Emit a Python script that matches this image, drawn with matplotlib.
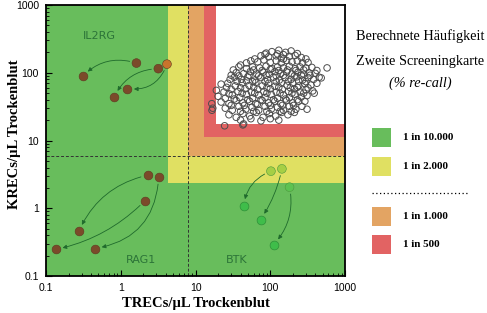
import matplotlib
matplotlib.use("Agg")
import matplotlib.pyplot as plt
from matplotlib.patches import Rectangle
from matplotlib.lines import Line2D

# ---------------- data ----------------
x_ticks = [0.1, 1, 10, 100, 1000]
x_ticklabels = ["0.1", "1", "10", "100", "1000"]
y_ticks = [0.1, 1, 10, 100, 1000]
y_ticklabels = ["0.1", "1", "10", "100", "1000"]

# cut-off zones (lower-left corner of each nested zone, TREC, KREC)
zone_colors = ["#e0e062", "#e3a463", "#e26363", "#ffffff"]
zone_x0 = [4.3, 8.0, 12.8, 19.0]
zone_y0 = [2.35, 6.0, 11.3, 17.5]
cut_trec = 8.0
cut_krec = 6.0

# IL2RG patients (first card -> second card)
il2rg_first_trec = [1.62, 3.18, 4.15]
il2rg_first_krec = [139, 115, 134]
il2rg_second_trec = [0.308, 0.814, 1.21]
il2rg_second_krec = [89, 44, 58.5]

# RAG1 patients
rag1_first_trec = [2.29, 2.11, 3.21]
rag1_first_krec = [3.08, 1.30, 2.88]
rag1_second_trec = [0.275, 0.135, 0.45]
rag1_second_krec = [0.46, 0.247, 0.255]

# BTK patients
btk_first_trec = [102, 143, 181]
btk_first_krec = [3.53, 3.82, 2.05]
btk_second_trec = [44, 74, 111]
btk_second_krec = [1.08, 0.68, 0.29]

# healthy newborn cloud
cloud_trec = [
    105, 130, 160, 190, 230, 125, 85,
    62, 75, 95, 120, 150, 180, 215, 260, 300, 88, 140,
    48, 55, 68, 82, 100, 120, 140, 165, 195, 230, 270, 320, 150, 40,
    38, 48, 58, 72, 88, 105, 125, 150, 180, 215, 250, 300, 360, 575, 420, 32,
    35, 44, 54, 66, 80, 97, 115, 138, 165, 195, 235, 280, 330, 400, 30,
    29, 33, 41, 50, 62, 75, 92, 110, 132, 158, 190, 225, 270, 320, 380, 450, 480,
    22, 27, 34, 42, 52, 64, 78, 95, 115, 140, 168, 200, 240, 290, 350, 420,
    19, 24, 30, 37, 46, 56, 68, 82, 100, 120, 145, 175, 210, 250, 300, 370, 387,
    20, 25, 31, 39, 48, 58, 70, 85, 103, 125, 150, 180, 215, 260, 310,
    22, 28, 35, 43, 53, 64, 78, 95, 115, 138, 165, 200, 240, 290,
    25, 31, 38, 47, 57, 70, 85, 103, 125, 150, 180, 220, 265, 310,
    28, 35, 43, 53, 65, 80, 97, 118, 142, 172, 210,
    40, 55, 75, 100, 130,
    60, 78, 100, 130, 170, 220, 280,
    38, 52, 70, 88, 120, 150, 210, 260, 340,
    36, 48, 58, 85, 120, 175, 240, 300,
    26, 40, 60, 90, 130, 185, 230, 320,
    28, 42, 62, 90, 135, 195, 280,
    33, 50, 75, 110, 160, 230,
    30, 45, 67, 100, 145, 205,
    40, 60, 90, 135, 190,
    16.5, 17, 16.6, 24.5, 43, 44,
]
cloud_krec = [
    205, 215, 200, 210, 192, 190, 188,
    160, 178, 172, 178, 185, 175, 180, 168, 160, 195, 165,
    140, 150, 145, 155, 142, 150, 140, 152, 145, 150, 140, 142, 160, 130,
    122, 115, 122, 118, 125, 115, 122, 118, 125, 115, 122, 118, 120, 118, 108, 110,
    100, 97, 104, 96, 102, 95, 104, 97, 103, 96, 102, 95, 100, 98, 92,
    80, 86, 80, 87, 78, 85, 79, 86, 78, 85, 80, 87, 78, 85, 80, 86, 84,
    68, 70, 64, 71, 65, 72, 64, 70, 63, 71, 65, 70, 64, 69, 66, 70,
    55, 52, 57, 53, 58, 52, 57, 53, 58, 52, 57, 53, 58, 52, 56, 54, 50,
    45, 42, 47, 43, 48, 42, 47, 43, 48, 42, 47, 43, 48, 44, 46,
    37, 35, 39, 36, 38, 35, 39, 36, 38, 35, 39, 36, 38, 38,
    30, 28, 32, 29, 31, 28, 32, 29, 31, 28, 32, 29, 32, 29,
    24, 22, 25, 23, 26, 22, 25, 23, 26, 24, 26,
    20, 21, 19.5, 21, 20,
    110, 108, 112, 108, 110, 108, 110,
    90, 92, 90, 92, 90, 92, 90, 92, 92,
    75, 76, 74, 75, 74, 75, 75, 74,
    61, 60, 61, 60, 61, 60, 61, 60,
    49, 50, 50, 50, 50, 50, 50,
    41, 40, 40, 40, 41, 40,
    33, 33, 34, 33, 33, 33,
    27, 27, 27, 27, 27,
    35, 30, 28, 16.5, 17, 17.6,
]

legend_labels = ["1 in 10.000", "1 in 2.000", "1 in 1.000", "1 in 500"]
legend_colors = ["#68bd5c", "#e0e062", "#e3a463", "#e26363"]

# ---------------- figure ----------------
plt.rcParams["font.family"] = ["Liberation Serif", "DejaVu Serif"]
fig = plt.figure(figsize=(4.87, 3.13), dpi=100)
ax = fig.add_axes([0.0945, 0.118, 0.614, 0.866])
ax.set_xscale("log")
ax.set_yscale("log")
ax.set_xlim(0.1, 1000)
ax.set_ylim(0.1, 1000)
ax.set_facecolor("#68bd5c")

for c, x0, y0 in zip(zone_colors, zone_x0, zone_y0):
    ax.add_patch(Rectangle((x0, y0), 1000 - x0, 1000 - y0, facecolor=c,
                           edgecolor="none", zorder=1))

ax.axvline(cut_trec, color="#333333", lw=0.7, ls=(0, (3, 2)), zorder=2)
ax.axhline(cut_krec, color="#333333", lw=0.7, ls=(0, (3, 2)), zorder=2)

ax.scatter(cloud_trec, cloud_krec, s=22, facecolors="none",
           edgecolors="#4d4d4d", linewidths=0.7, zorder=3)

brown = "#7b4a2a"
brown_edge = "#5e3820"
il2rg_cols = [brown, brown, "#c8742c"]
ax.scatter(il2rg_first_trec, il2rg_first_krec, s=40, c=il2rg_cols,
           edgecolors=brown_edge, linewidths=0.4, zorder=5)
ax.scatter(il2rg_second_trec, il2rg_second_krec, s=40, c=brown,
           edgecolors=brown_edge, linewidths=0.4, zorder=5)
ax.scatter(rag1_first_trec, rag1_first_krec, s=40, c=brown,
           edgecolors=brown_edge, linewidths=0.4, zorder=5)
ax.scatter(rag1_second_trec, rag1_second_krec, s=40, c=brown,
           edgecolors=brown_edge, linewidths=0.4, zorder=5)
btk_first_cols = ["#a6cf45", "#a6cf45", "#5dc252"]
ax.scatter(btk_first_trec, btk_first_krec, s=40, c=btk_first_cols,
           edgecolors="#4c9a3c", linewidths=0.4, zorder=5)
ax.scatter(btk_second_trec, btk_second_krec, s=40, c="#3fbd4a",
           edgecolors="#2e8f38", linewidths=0.5, zorder=5)

arrow_col = "#1f6a2c"
def arrows(x1, y1, x2, y2, rads):
    for a, b, c, d, r in zip(x1, y1, x2, y2, rads):
        ax.annotate("", xy=(c, d), xytext=(a, b),
                    arrowprops=dict(arrowstyle="-|>", color=arrow_col, lw=0.6,
                                    mutation_scale=6, shrinkA=5, shrinkB=5,
                                    connectionstyle=f"arc3,rad={r}"),
                    zorder=4)

arrows(il2rg_first_trec, il2rg_first_krec, il2rg_second_trec, il2rg_second_krec,
       [0.3, 0.3, -0.4])
arrows(rag1_first_trec, rag1_first_krec, rag1_second_trec, rag1_second_krec,
       [0.25, -0.15, -0.4])
arrows(btk_first_trec, btk_first_krec, btk_second_trec, btk_second_krec,
       [0.3, -0.1, -0.25])

txt_col = "#2c7438"
ax.text(0.525, 350, "IL2RG", color=txt_col, fontsize=8, family="DejaVu Sans",
        ha="center", va="center", zorder=6)
ax.text(1.85, 0.175, "RAG1", color=txt_col, fontsize=8, family="DejaVu Sans",
        ha="center", va="center", zorder=6)
ax.text(35, 0.175, "BTK", color=txt_col, fontsize=8, family="DejaVu Sans",
        ha="center", va="center", zorder=6)

ax.set_xticks(x_ticks)
ax.set_xticklabels(x_ticklabels)
ax.set_yticks(y_ticks)
ax.set_yticklabels(y_ticklabels)
ax.tick_params(which="major", direction="in", length=4, width=0.8,
               labelsize=7.5, pad=5)
ax.tick_params(which="minor", direction="in", length=2, width=0.6)
for lab in ax.get_xticklabels() + ax.get_yticklabels():
    lab.set_family("Liberation Sans")
for sp in ax.spines.values():
    sp.set_linewidth(1.3)
    sp.set_zorder(10)

ax.set_xlabel("TRECs/µL Trockenblut", fontsize=10.5, fontweight="bold", labelpad=3)
ax.set_ylabel("KRECs/µL Trockenblut", fontsize=10.5, fontweight="bold")
ax.yaxis.set_label_coords(-0.084, 0.524)

# ---------------- legend panel ----------------
W, H = 487.0, 313.0
def fx(px):
    return px / W
def fy(py):
    return 1 - py / H

fig.text(fx(420), fy(36), "Berechnete Häufigkeit", fontsize=10.3, ha="center", va="center")
fig.text(fx(420), fy(61), "Zweite Screeningkarte", fontsize=10.3, ha="center", va="center")
fig.text(fx(420), fy(83), "(% re-call)", fontsize=10.3, style="italic", ha="center", va="center")

patch_y = [128, 157, 207, 235]
for lab, col, py in zip(legend_labels, legend_colors, patch_y):
    fig.patches.append(Rectangle((fx(372), fy(py + 19)), 19 / W, 19 / H,
                                 facecolor=col, edgecolor="none",
                                 transform=fig.transFigure, figure=fig))
    fig.text(fx(403), fy(py + 9.5), lab, fontsize=8, fontweight="bold",
             ha="left", va="center")

fig.lines.append(Line2D([fx(372), fx(467)], [fy(193), fy(193)], color="black",
                        lw=0.9, ls=(0, (1, 2)), transform=fig.transFigure))

fig.savefig("out.png", dpi=100)
